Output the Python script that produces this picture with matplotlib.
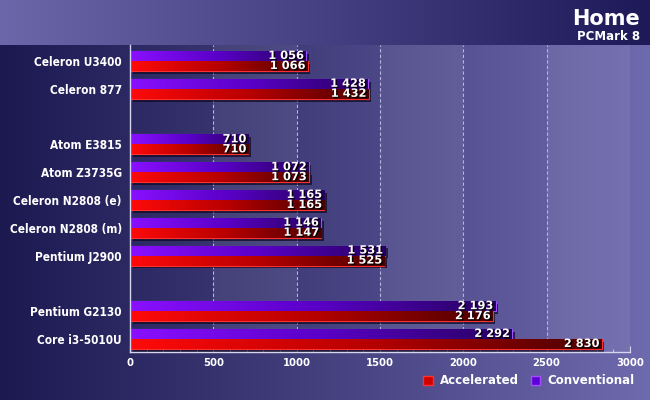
import numpy as np
import matplotlib
matplotlib.use('Agg')
from matplotlib import pyplot as plt
from matplotlib.colors import LinearSegmentedColormap, to_rgb
from matplotlib.patches import Patch
import matplotlib.patheffects as pe

# data
cpus = ['Celeron U3400', 'Celeron 877', '', 'Atom E3815', 'Atom Z3735G',
        'Celeron N2808 (e)', 'Celeron N2808 (m)', 'Pentium J2900', '',
        'Pentium G2130', 'Core i3-5010U']
conventional = [1056, 1428, None, 710, 1072, 1165, 1146, 1531, None, 2193, 2292]
accelerated = [1066, 1432, None, 710, 1073, 1165, 1147, 1525, None, 2176, 2830]
xticks = [0, 500, 1000, 1500, 2000, 2500, 3000]

W, H = 650, 400
fig = plt.figure(figsize=(6.5, 4), dpi=100)

# background
def hgrad(c1, c2, n):
    a, b = np.array(to_rgb(c1)), np.array(to_rgb(c2))
    t = np.linspace(0, 1, n)[:, None]
    return a * (1 - t) + b * t

bg = np.zeros((H, W, 3))
bg[:] = hgrad('#1c1850', '#6e6aae', W)[None, :, :]
bg[:45] = hgrad('#6c66aa', '#1e1a58', W)[None, :, :]
bgax = fig.add_axes([0, 0, 1, 1], zorder=-5)
bgax.imshow(bg, aspect='auto', extent=(0, 1, 0, 1))
bgax.axis('off')

ax = fig.add_axes([130 / W, 1 - 352 / H, 500 / W, 307 / H])
ax.set_facecolor('none')

for i in range(len(xticks) - 1):
    if i % 2 == 1:
        ax.axvspan(xticks[i], xticks[i + 1], color='white', alpha=0.07, lw=0, zorder=0)
for x in xticks[1:]:
    ax.axvline(x, color='#b8b4dc', lw=0.8, ls=(0, (3, 2)), zorder=0.5)

purple = LinearSegmentedColormap.from_list('p', ['#8a10ff', '#5a00c8', '#260060'])
red = LinearSegmentedColormap.from_list('r', ['#ff0a0a', '#b80000', '#4a0000'])
grad = np.linspace(0, 1, 256)[None, :]
bh = 0.36

shadow = [pe.SimplePatchShadow(offset=(2, -2), shadow_rgbFace='#0a0820', alpha=0.7), pe.Normal()]
txt_fx = [pe.withSimplePatchShadow(offset=(1, -1), shadow_rgbFace='#000000', alpha=0.9)]

for i, (c, a) in enumerate(zip(conventional, accelerated)):
    if c is None:
        continue
    for val, yc, cmap, edge in [(c, i - bh / 2, purple, '#a050ff'), (a, i + bh / 2, red, '#ff3030')]:
        b = ax.barh(yc, val, height=bh, color=cmap(0.6), edgecolor=edge, lw=0.8, zorder=2)[0]
        b.set_path_effects(shadow)
        im = ax.imshow(grad, cmap=cmap, aspect='auto', zorder=2.5,
                       extent=(0, val, yc + bh / 2, yc - bh / 2))
        im.set_clip_path(b)
        ax.annotate(f'{val:,}'.replace(',', ' '), (val, yc), xytext=(-1.5, 0),
                    textcoords='offset points', ha='right', va='center',
                    color='white', fontsize=8.2, fontweight='bold', zorder=4,
                    path_effects=txt_fx)
ax.set_xlim(0, 3000)
ax.set_ylim(10.47, -0.575)

ax.set_yticks(range(len(cpus)))
ax.set_yticklabels(cpus)
ax.tick_params(axis='y', length=0, pad=6, labelcolor='white', labelsize=8.5)
for t in ax.get_yticklabels():
    t.set_fontweight('bold')
    t.set_fontstretch('condensed')
ax.set_xticks(xticks)
ax.set_xticks(np.arange(0, 3001, 100), minor=True)
ax.tick_params(axis='x', which='major', direction='in', length=4, color='#d8d6ee',
               labelcolor='white', labelsize=8, pad=4)
ax.tick_params(axis='x', which='minor', direction='in', length=2, color='#d8d6ee')
for t in ax.get_xticklabels():
    t.set_fontweight('bold')
    t.set_fontstretch('condensed')
for s in ['top', 'right']:
    ax.spines[s].set_visible(False)
for s in ['left', 'bottom']:
    ax.spines[s].set_color('#d8d6ee')
    ax.spines[s].set_linewidth(1)

fig.text(640 / W, 1 - 19 / H, 'Home', ha='right', va='center', color='white',
         fontsize=15, fontweight='bold')
fig.text(640 / W, 1 - 36 / H, 'PCMark 8', ha='right', va='center', color='white',
         fontsize=8.5, fontweight='bold')

handles = [Patch(facecolor='#d00000', edgecolor='#ff3030', label='Accelerated'),
           Patch(facecolor='#6000d8', edgecolor='#a050ff', label='Conventional')]
leg = fig.legend(handles=handles, loc='center right', bbox_to_anchor=(645 / W, 1 - 381 / H),
                 ncol=2, frameon=False, handlelength=0.8, handleheight=0.8,
                 handletextpad=0.6, columnspacing=1.0, fontsize=8.5)
for t in leg.get_texts():
    t.set_color('white')
    t.set_fontweight('bold')

fig.savefig('out.png', dpi=100)
